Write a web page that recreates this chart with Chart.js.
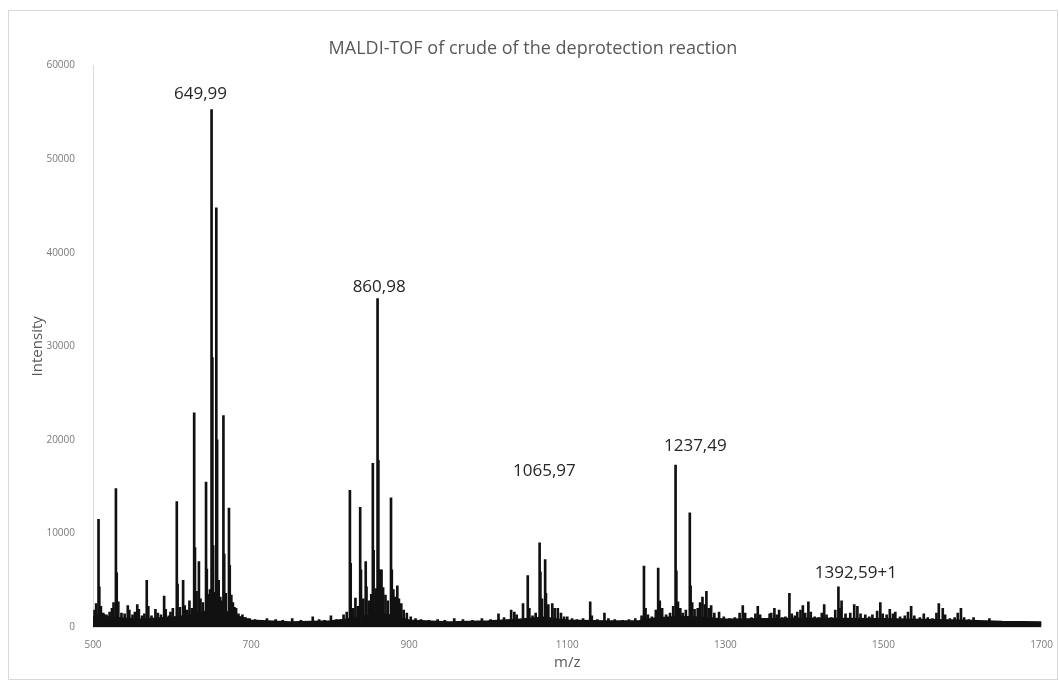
<!DOCTYPE html>
<html>
<head>
<meta charset="utf-8">
<script src="https://cdn.jsdelivr.net/npm/chart.js@4.4.1/dist/chart.umd.min.js"></script>
<style>
  html, body { margin: 0; padding: 0; background: #fff; }
  #wrap { position: absolute; left: 8px; top: 10px; width: 1048px; height: 668px; border: 1px solid #d9d9d9; }
</style>
</head>
<body>
<div id="wrap"><canvas id="maldi"></canvas></div>
<script>
// peak list (m/z, intensity)
var peakMz = [
  502, 504, 507, 508, 510, 513, 517, 521, 524, 526, 529, 530, 532, 536, 540, 544, 546, 550, 553, 556,
  558, 562, 565, 568, 570, 574, 579, 582, 586, 590, 592, 596, 598, 601, 606, 607, 610, 614, 616, 619,
  622, 625, 628, 629, 631, 634, 636, 639, 643, 644, 646, 648, 650, 651, 652, 654, 656, 657, 659, 661,
  663, 665, 666, 668, 672, 673, 675, 677, 679, 681, 684, 689, 693, 698,
  705, 712, 720, 731, 740, 752, 763, 778, 786, 793, 801, 808, 817, 821,
  825, 826, 829, 832, 835, 838, 839, 842, 845, 846, 849, 852, 854, 855, 858, 860, 861, 863, 865, 867,
  870, 873, 877, 878, 880, 882, 885, 887, 890, 893, 897, 902, 908, 915, 925, 936, 945, 957, 968, 980,
  992, 1003,
  1013, 1020, 1029, 1033, 1036, 1044, 1050, 1052, 1056, 1060, 1065, 1066, 1068, 1072, 1073, 1076, 1081, 1084, 1088, 1092,
  1096, 1100, 1106, 1112, 1120, 1129, 1131, 1138, 1147, 1152, 1160, 1170, 1178, 1186, 1194,
  1197, 1199, 1202, 1207, 1212, 1215, 1217, 1220, 1225, 1230, 1234, 1237, 1238, 1240, 1243, 1246, 1250, 1255, 1256, 1258,
  1261, 1265, 1268, 1271, 1274, 1276, 1279, 1282, 1286, 1292, 1298, 1305, 1312, 1318, 1322, 1325, 1333, 1338, 1341, 1344,
  1350, 1356, 1358, 1362, 1365, 1368, 1372, 1376, 1381, 1384, 1388, 1391, 1395, 1398, 1401, 1405, 1408, 1413, 1418, 1422,
  1425, 1428, 1434, 1439, 1443, 1445, 1447, 1452, 1458, 1463, 1467, 1471, 1477, 1482, 1486, 1492, 1496, 1499, 1504, 1508,
  1512, 1515, 1521, 1527, 1531, 1535, 1539, 1546, 1551, 1556, 1562, 1567, 1570, 1575, 1578, 1584, 1590, 1594, 1598, 1602,
  1608, 1614, 1620, 1627, 1634, 1640, 1650, 1660, 1672, 1685, 1695
];
var peakIntensity = [
  1800, 2500, 11500, 4300, 2200, 1500, 1300, 1600, 2000, 2600, 14800, 5800, 2700, 1500, 1400, 2300, 1800, 1300, 1600, 2400,
  1900, 1200, 1400, 5000, 2200, 1200, 1900, 1500, 1300, 3300, 1900, 1200, 1600, 2000, 13400, 4600, 2100, 5000, 2300, 1800,
  2800, 2000, 22900, 8500, 3800, 7000, 3000, 2600, 15500, 6200, 3500, 4000, 55300, 28800, 8700, 3700, 44800, 20000, 5000, 3200,
  2800, 22600, 7800, 3600, 12700, 6600, 3400, 2600, 2100, 2000, 1400, 1300, 1000, 900,
  800, 700, 900, 800, 700, 900, 700, 1100, 800, 700, 1200, 800, 1300, 1600,
  14600, 6800, 2000, 3100, 2200, 12800, 6100, 3000, 7000, 4300, 2800, 3500, 17500, 8200, 4100, 35100, 17800, 6100, 6100, 4200,
  3400, 2800, 13800, 6100, 4000, 3200, 4400, 3000, 2500, 1800, 1500, 1100, 900, 800, 700, 800, 700, 900, 800, 700,
  900, 800,
  1400, 1000, 1800, 1600, 1300, 2500, 5500, 2000, 1200, 1500, 9000, 5900, 3000, 7200, 3600, 2400, 2500, 2000, 2000, 1500,
  1100, 1100, 900, 800, 900, 2700, 1200, 800, 1500, 900, 800, 700, 800, 900, 1200,
  6500, 2000, 1300, 1100, 1800, 6300, 2800, 2000, 1300, 1500, 2200, 17300, 6000, 2700, 2000, 1500, 1800, 12200, 4400, 2600,
  1900, 2000, 2600, 3200, 2400, 3800, 2000, 2300, 1500, 1600, 1100, 900, 1000, 1500, 2300, 1500, 1000, 1400, 2200, 1300,
  900, 1400, 1500, 2000, 1300, 1800, 1000, 1100, 3600, 1400, 1200, 1600, 1800, 2300, 1500, 2700, 1600, 1100, 1000, 1500,
  2400, 1300, 1000, 1800, 4300, 2000, 2800, 1400, 1500, 2400, 2200, 1400, 1300, 1100, 1300, 1700, 2600, 1400, 1300, 1900,
  1400, 1600, 1100, 1200, 1600, 2200, 1200, 1000, 1400, 1000, 900, 1500, 2500, 2000, 1300, 900, 1000, 1500, 2000, 1000,
  800, 1000, 700, 600, 900, 600, 500, 500, 500, 500, 500
];

// noise floor of the trace
var baseMz = [500, 510, 520, 540, 560, 580, 600, 620, 640, 660, 680, 700, 750, 800, 820, 840, 860, 880, 900, 950,
  1000, 1040, 1070, 1100, 1150, 1190, 1210, 1240, 1270, 1300, 1400, 1500, 1600, 1650, 1700];
var baseIntensity = [900, 1300, 900, 800, 700, 800, 900, 1100, 1500, 1800, 1100, 600, 400, 500, 700, 1000, 1300, 1100, 600, 400,
  500, 700, 900, 600, 500, 500, 800, 1000, 900, 700, 800, 750, 600, 450, 400];

var labelText = ['649,99', '860,98', '1065,97', '1237,49', '1392,59+1'];
var labelMz = [636, 862, 1071, 1262, 1465];
var labelIntensity = [57000, 36300, 16700, 19300, 5800];

var xTicks = [500, 700, 900, 1100, 1300, 1500, 1700];

var peaks = peakMz.map(function (m, i) { return { x: m, y: peakIntensity[i] }; });
var floor = baseMz.map(function (m, i) { return { x: m, y: baseIntensity[i] }; });

var peakLabels = {
  id: 'peakLabels',
  afterDatasetsDraw: function (chart) {
    var ctx = chart.ctx;
    var sx = chart.scales.x, sy = chart.scales.y;
    ctx.save();
    ctx.font = '17px "Open Sans", sans-serif';
    ctx.fillStyle = '#262626';
    ctx.textAlign = 'center';
    ctx.textBaseline = 'middle';
    for (var i = 0; i < labelText.length; i++) {
      ctx.fillText(labelText[i], sx.getPixelForValue(labelMz[i]), sy.getPixelForValue(labelIntensity[i]));
    }
    ctx.restore();
  }
};

var context = document.getElementById('maldi').getContext('2d');
var chart = new Chart(context, {
  type: 'bar',
  data: {
    datasets: [
      {
        label: 'peaks',
        data: peaks,
        backgroundColor: '#111',
        barThickness: 2,
        grouped: false
      },
      {
        type: 'line',
        label: 'baseline',
        data: floor,
        borderColor: '#111',
        backgroundColor: '#111',
        borderWidth: 4,
        pointRadius: 0,
        fill: 'origin',
        tension: 0
      }
    ]
  },
  options: {
    responsive: true,
    maintainAspectRatio: false,
    animation: false,
    layout: { padding: { top: 22, left: 0, right: 0, bottom: 0 } },
    plugins: {
      legend: { display: false },
      tooltip: { enabled: false },
      title: {
        display: true,
        text: 'MALDI-TOF of crude of the deprotection reaction',
        color: '#595959',
        font: { family: 'Open Sans', size: 18, weight: 'normal' },
        padding: { top: 5, bottom: 6 }
      }
    },
    scales: {
      x: {
        type: 'linear',
        min: 500,
        max: 1700,
        offset: false,
        grid: { display: false, offset: false },
        border: { display: true, color: '#d9d9d9', width: 1 },
        afterBuildTicks: function (axis) {
          axis.ticks = xTicks.map(function (v) { return { value: v }; });
        },
        afterFit: function (axis) { axis.height = 52; },
        ticks: {
          padding: 4,
          color: '#7a7a7a',
          font: { family: 'Open Sans', size: 10 },
          callback: function (v) { return String(v); }
        },
        title: {
          display: true,
          text: 'm/z',
          color: '#595959',
          font: { family: 'Open Sans', size: 15 },
          padding: { top: 0, bottom: 7 }
        }
      },
      y: {
        min: 0,
        max: 60000,
        grid: { display: false },
        border: { display: true, color: '#d9d9d9', width: 1 },
        afterFit: function (axis) { axis.width = 84; },
        ticks: {
          stepSize: 10000,
          padding: 10,
          color: '#7a7a7a',
          font: { family: 'Open Sans', size: 10 },
          callback: function (v) { return String(v); }
        },
        title: {
          display: true,
          text: 'Intensity',
          color: '#595959',
          font: { family: 'Open Sans', size: 15 },
          padding: { top: 20, bottom: 0 }
        }
      }
    }
  },
  plugins: [peakLabels]
});
</script>
</body>
</html>
